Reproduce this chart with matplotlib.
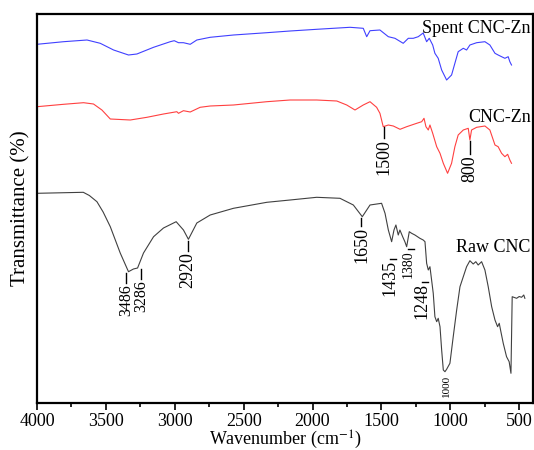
import matplotlib
matplotlib.use("Agg")
import matplotlib.pyplot as plt
from matplotlib.ticker import MultipleLocator

plt.rcParams['font.family'] = ['Liberation Serif', 'DejaVu Serif']
plt.rcParams['mathtext.fontset'] = 'stix'

# ---------------- data (arbitrary transmittance units, stacked) ----------------
raw_w = [4000, 3664, 3620, 3565, 3520, 3468, 3396, 3336, 3300, 3270, 3227, 3154, 3082, 2990, 2937, 2901,
         2840, 2743, 2574, 2332, 2163, 1970, 1801, 1704, 1639, 1583, 1499, 1474, 1450, 1426,
         1409, 1395, 1378, 1366, 1346, 1330, 1317, 1298, 1281, 1257, 1221, 1197, 1184, 1172,
         1160, 1148, 1136, 1124, 1112, 1099, 1088, 1075, 1063, 1051, 1039, 1027, 1003, 979,
         954, 930, 906, 882, 858, 834, 815, 798, 773, 749, 725, 700, 676, 657, 645, 633, 616,
         592, 573, 560, 551, 519, 500, 483, 467, 459]
raw_t = [209.7, 210.7, 207.5, 201.3, 191, 176.3, 150, 131.3, 134, 135, 150, 166.3, 175, 181.3, 173, 163.7,
         180, 188, 194.7, 200.7, 203, 205.7, 204.7, 198, 186.3, 198, 199.7, 189.7, 173, 161.3,
         173, 178, 168, 173, 166.3, 161.3, 156.3, 171.3, 169.7, 168, 164.7, 163, 161.3, 139.7,
         133, 136.3, 123, 109.7, 86.3, 81.3, 84.7, 76.3, 53, 33, 31.3, 33.7, 39.7, 66.3,
         93, 116.3, 126.3, 136.3, 142.3, 139, 141.3, 138, 141.3, 133, 116.3, 96.3, 83, 76.3,
         79.7, 71.3, 59.7, 46.3, 41.3, 29.7, 106.3, 104.7, 106.5, 105.7, 108, 104.7]

zn_w = [4000, 3807, 3662, 3590, 3529, 3468, 3323, 3202, 3082, 2985, 2973, 2937, 2888, 2816,
        2743, 2574, 2332, 2163, 1970, 1824, 1752, 1692, 1632, 1583, 1535, 1511, 1487, 1450,
        1414, 1365, 1317, 1244, 1208, 1191, 1177, 1160, 1148, 1128, 1099, 1075, 1051, 1020,
        991, 967, 943, 906, 870, 858, 846, 809, 749, 713, 676, 653, 628, 604, 584, 568, 556]
zn_t = [296.3, 298.7, 300.3, 299, 293, 284, 283, 285.7, 289, 291.3, 289.7, 292.3, 291, 295.7,
        297, 298, 301.3, 303, 303, 302, 298, 293, 298, 301.3, 295.7, 289.7, 276.3, 278,
        277, 273.7, 276.3, 279.7, 281.3, 284.7, 276.3, 273, 278, 269.7, 256.3, 249.7, 239.7, 229.7,
        239.7, 256.3, 268, 273, 274.7, 263, 273, 275.7, 277, 273, 258, 256.3, 249.7, 246.3, 248.7,
        243, 239.7]

spent_w = [4000, 3807, 3637, 3541, 3444, 3336, 3275, 3154, 3033, 3004, 2973, 2937, 2888, 2840,
           2743, 2574, 2332, 2163, 1970, 1728, 1632, 1607, 1583, 1511, 1450, 1402, 1342, 1305,
           1269, 1233, 1197, 1172, 1153, 1128, 1112, 1088, 1063, 1027, 991, 967, 943, 906, 882,
           858, 809, 749, 713, 676, 653, 628, 604, 580, 568, 556]
spent_t = [358.7, 361.3, 363, 359.7, 353, 348, 349, 355.7, 361.3, 362.3, 360.3, 360.3, 358.7, 363,
           365.7, 368, 370.3, 372, 373.7, 375.7, 374.7, 366.3, 372.3, 373, 366.3, 364.7, 359.7, 364.7,
           364.7, 366.3, 370, 361.3, 364.7, 358, 349.7, 344.7, 333, 323, 328, 339.7, 351.3, 354.7, 353,
           358, 360.3, 361.3, 358, 349.7, 348, 346.3, 344.7, 346.3, 341.3, 338]

series_names = ['Spent CNC-Zn', 'CNC-Zn', 'Raw CNC']
x_ticks = [4000, 3500, 3000, 2500, 2000, 1500, 1000, 500]

# peak annotations: label, x, y of curve end of leader, y of text top, fontsize
peak_labels = ['3486', '3286', '2920', '1650', '1500', '800']
peak_x = [3355, 3245, 2903, 1645, 1481, 858]
peak_y0 = [130, 134, 162, 185, 276, 262]
peak_y1 = [120, 124, 152, 177, 265, 249]
peak_fs = [11.5, 11.5, 13, 13, 13, 13]

dash_labels = ['1435', '1380', '1248']
dash_x = [1437, 1307, 1205]
dash_y = [144, 154, 121]
dash_fs = [13, 10, 13]

# ---------------- figure ----------------
fig = plt.figure(figsize=(5.34, 4.5), dpi=100)
ax = fig.add_axes([37 / 534, 47 / 450, (533 - 37) / 534, (403 - 14) / 450])

ax.plot(spent_w, spent_t, color='#4040ff', lw=0.8)
ax.plot(zn_w, zn_t, color='#ff4040', lw=0.8)
ax.plot(raw_w, raw_t, color='#404040', lw=0.8)

ax.set_xlim(4000, 400)
ax.set_ylim(0, 389)

# series names
ax.text(418, 375, series_names[0], ha='right', va='center', fontsize=13)
ax.text(418, 286, series_names[1], ha='right', va='center', fontsize=13)
ax.text(418, 156, series_names[2], ha='right', va='center', fontsize=13)

# leader-line annotations
for lab, x, y0, y1, fs in zip(peak_labels, peak_x, peak_y0, peak_y1, peak_fs):
    ax.plot([x, x], [y0, y1], color='black', lw=1.0)
    ax.text(x, y1 - 1, lab, rotation=90, ha='center', va='top', fontsize=fs)

for lab, x, y, fs in zip(dash_labels, dash_x, dash_y, dash_fs):
    ax.plot([x, x - 40], [y, y], color='black', lw=1.0)
    ax.text(x, y - 1, lab, rotation=90, ha='center', va='top', fontsize=fs)

ax.text(1030, 28, '1000', rotation=90, ha='center', va='top', fontsize=8)

# axes styling
ax.set_xticks(x_ticks)
ax.set_xticklabels([str(t) for t in x_ticks])
ax.xaxis.set_minor_locator(MultipleLocator(250))
ax.tick_params(axis='x', which='major', direction='out', length=5, width=1.2, labelsize=13, pad=2)
ax.tick_params(axis='x', which='minor', direction='out', length=3, width=1.2)
ax.set_yticks([])
for s in ax.spines.values():
    s.set_linewidth(1.6)

ax.set_xlabel('Wavenumber (cm$^{-1}$)', fontsize=13, labelpad=-1)
ax.set_ylabel('Transmittance (%)', fontsize=15, labelpad=5)

fig.savefig('out.png', dpi=100)
